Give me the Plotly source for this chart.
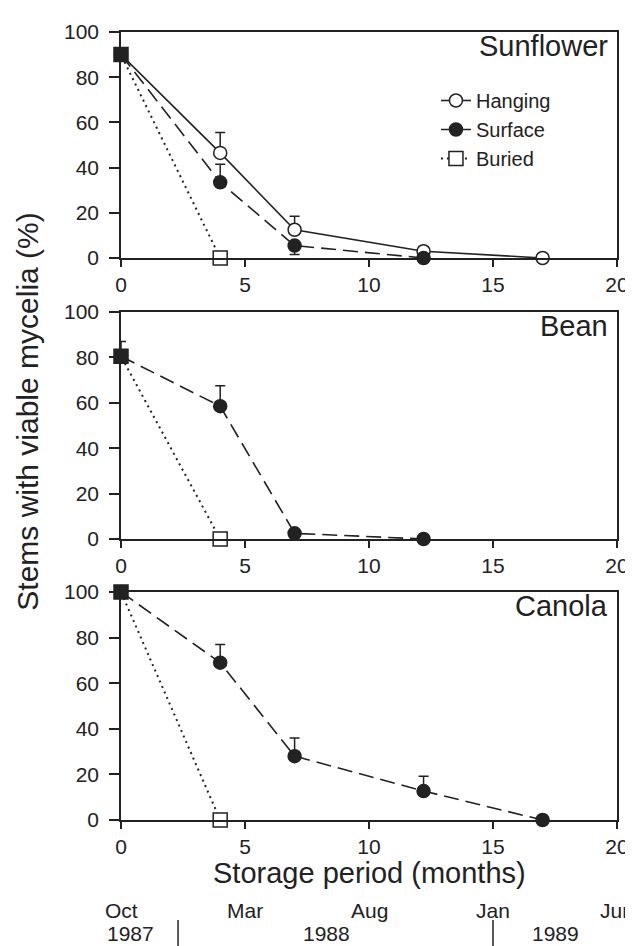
import plotly.graph_objects as go

# ---------------- data ----------------
crops = ["Sunflower", "Bean", "Canola"]

# Sunflower
sun_hang_x = [0, 4, 7, 12.2, 17]
sun_hang_y = [90, 46.5, 12.5, 3, 0]
sun_hang_err = [0, 9, 6, 2, 0]
sun_surf_x = [0, 4, 7, 12.2]
sun_surf_y = [90, 33.5, 5.5, 0]
sun_surf_err = [0, 8, 0, 0]
sun_surf_errminus = [0, 0, 4, 0]
sun_bur_x = [0, 4]
sun_bur_y = [90, 0]

# Bean
bean_surf_x = [0, 4, 7, 12.2]
bean_surf_y = [80.5, 58.5, 2.5, 0]
bean_surf_err = [6.5, 9, 0, 0]
bean_bur_x = [0, 4]
bean_bur_y = [80.5, 0]

# Canola
can_surf_x = [0, 4, 7, 12.2, 17]
can_surf_y = [100, 69, 28, 12.7, 0]
can_surf_err = [0, 8, 8, 6.5, 0]
can_bur_x = [0, 4]
can_bur_y = [100, 0]

month_pos = [0, 5, 10, 15, 20]
month_labels = ["Oct", "Mar", "Aug", "Jan", "Jun"]
year_pos = [0.4, 8.3, 17.5]
year_labels = ["1987", "1988", "1989"]
year_breaks = [2.3, 15.0]

y_ticks = [0, 20, 40, 60, 80, 100]
x_ticks = [0, 5, 10, 15, 20]

# ---------------- style ----------------
INK = "#222222"
FONT = "Liberation Sans, Arial, Helvetica, sans-serif"
W, H = 633, 946
ML, MR, MT, MB = 113, 15, 24, 134
plot_h = H - MT - MB

def py(px):  # pixel y -> paper y
    return (H - MB - px) / plot_h

fig = go.Figure()

def add(x, y, name, xa, ya, kind, err=None, errm=None, show=False):
    if kind == "hang":
        line = dict(color=INK, width=1.6)
        marker = dict(symbol="circle", size=13, color="white",
                      line=dict(color=INK, width=1.5))
    elif kind == "surf":
        line = dict(color=INK, width=1.6, dash="15px,7px")
        marker = dict(symbol="circle", size=13, color=INK,
                      line=dict(color=INK, width=1.5))
    else:
        # reversed order so the legend sample shows the open square;
        # the shared start point (overlapping markers) appears dark
        x = list(x)[::-1]
        y = list(y)[::-1]
        line = dict(color=INK, width=2, dash="2px,4px")
        marker = dict(symbol="square", size=14,
                      color=["white"] * (len(x) - 1) + [INK],
                      line=dict(color=INK, width=1.5))
    tr = go.Scatter(x=x, y=y, mode="lines+markers", name=name,
                    line=line, marker=marker, xaxis=xa, yaxis=ya,
                    showlegend=show, cliponaxis=False,
                    legendrank={"hang": 1, "surf": 2, "bur": 3}[kind])
    if err is not None:
        tr.error_y = dict(type="data", symmetric=False, array=err,
                          arrayminus=errm if errm is not None else [0] * len(err),
                          color=INK, thickness=1.5, width=5)
    fig.add_trace(tr)

# Sunflower (top)
add(sun_hang_x, sun_hang_y, "Hanging", "x", "y", "hang", sun_hang_err, show=True)
add(sun_surf_x, sun_surf_y, "Surface", "x", "y", "surf", sun_surf_err, sun_surf_errminus, show=True)
add(sun_bur_x, sun_bur_y, "Buried", "x", "y", "bur", show=True)
# Bean (middle)
add(bean_surf_x, bean_surf_y, "Surface", "x2", "y2", "surf", bean_surf_err)
add(bean_bur_x, bean_bur_y, "Buried", "x2", "y2", "bur")
# Canola (bottom)
add(can_surf_x, can_surf_y, "Surface", "x3", "y3", "surf", can_surf_err)
add(can_bur_x, can_bur_y, "Buried", "x3", "y3", "bur")

domains = {
    "y": [py(250), py(24)],
    "y2": [py(531), py(304)],
    "y3": [py(812), py(584)],
}

axis_common = dict(showline=True, linecolor=INK, linewidth=1.5, mirror=True,
                   ticks="outside", tickcolor=INK, tickwidth=1.5,
                   showgrid=False, zeroline=False,
                   tickfont=dict(family=FONT, size=21, color=INK))

layout = dict(
    width=W, height=H,
    margin=dict(l=ML, r=MR, t=MT, b=MB, pad=0),
    paper_bgcolor="white", plot_bgcolor="white",
    font=dict(family=FONT, color=INK),
    showlegend=True,
    legend=dict(x=0.635, y=py(73), xanchor="left", yanchor="top",
                bgcolor="rgba(0,0,0,0)", font=dict(family=FONT, size=20, color=INK),
                tracegroupgap=0, traceorder="normal"),
)
for i, (xa, ya) in enumerate([("xaxis", "yaxis"), ("xaxis2", "yaxis2"), ("xaxis3", "yaxis3")]):
    yk = "y" if i == 0 else f"y{i+1}"
    xk = "x" if i == 0 else f"x{i+1}"
    layout[xa] = dict(axis_common, range=[0, 20], tickvals=x_ticks, ticklen=7,
                      anchor=yk, domain=[0, 1])
    layout[ya] = dict(axis_common, range=[0, 100], tickvals=y_ticks, ticklen=10,
                      ticklabelstandoff=6, anchor=xk, domain=domains[yk])
fig.update_layout(**layout)

anns = []
for i, name in enumerate(crops):
    xk = "x" if i == 0 else f"x{i+1}"
    yk = "y" if i == 0 else f"y{i+1}"
    anns.append(dict(text=name, xref=f"{xk} domain", yref=f"{yk} domain",
                     x=0.985, y=1 - 14 / 227, xanchor="right", yanchor="middle",
                     showarrow=False, font=dict(family=FONT, size=29, color=INK)))

anns.append(dict(text="Storage period (months)", xref="paper", yref="paper",
                 x=0.5, y=py(865), xanchor="center", yanchor="middle",
                 showarrow=False, font=dict(family=FONT, size=29, color=INK)))
anns.append(dict(text="Stems with viable mycelia (%)", xref="paper", yref="paper",
                 x=(17 - ML) / (W - ML - MR), y=py(404), xanchor="center", yanchor="middle",
                 textangle=-90, showarrow=False, font=dict(family=FONT, size=30, color=INK)))
for p, lab in zip(month_pos, month_labels):
    anns.append(dict(text=lab, xref="x3", yref="paper", x=p, y=py(902),
                     xanchor="center", yanchor="middle", showarrow=False,
                     font=dict(family=FONT, size=21, color=INK)))
for p, lab in zip(year_pos, year_labels):
    anns.append(dict(text=lab, xref="x3", yref="paper", x=p, y=py(925),
                     xanchor="center", yanchor="middle", showarrow=False,
                     font=dict(family=FONT, size=21, color=INK)))
fig.update_layout(annotations=anns)

shapes = []
for b in year_breaks:
    shapes.append(dict(type="line", xref="x3", yref="paper", x0=b, x1=b,
                       y0=py(912), y1=py(946), line=dict(color=INK, width=1.5)))
fig.update_layout(shapes=shapes)

fig.write_html("out.html")
